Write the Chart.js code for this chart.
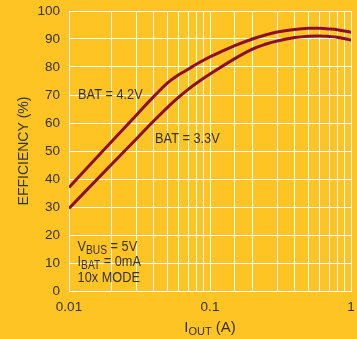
<!DOCTYPE html>
<html>
<head>
<meta charset="utf-8">
<script src="https://cdn.jsdelivr.net/npm/chart.js@4"></script>
<style>
  html, body { margin: 0; padding: 0; background: #fec424; }
  #wrap { width: 357px; height: 339px; }
</style>
</head>
<body>
<div id="wrap"><canvas id="myChart" width="357" height="339"></canvas></div>
<script>
// curve data (I OUT in A, efficiency in %)
const iOut = [0.01, 0.02, 0.03, 0.04, 0.05, 0.06, 0.07, 0.08, 0.1, 0.15, 0.2, 0.25, 0.3, 0.4, 0.5, 0.6, 0.7, 0.8, 1.0];
const bat42 = [37.0, 53.3, 62.8, 69.5, 74.3, 77.2, 79.2, 81.0, 83.6, 87.6, 90.0, 91.5, 92.5, 93.4, 93.8, 93.8, 93.6, 93.3, 92.4];
const bat33 = [29.5, 45.2, 54.3, 60.8, 65.6, 69.2, 72.0, 74.2, 77.5, 83.0, 86.4, 88.2, 89.3, 90.5, 91.0, 91.1, 90.9, 90.6, 89.6];
const yTicks = [0, 10, 20, 30, 40, 50, 60, 70, 80, 90, 100];
const xLabels = [0.01, 0.1, 1];

const lineColor = "#8c0f2f";
const textColor = "#333333";
const fam = "'Liberation Sans', Arial, sans-serif";

const toPoints = (xs, ys) => xs.map((x, i) => ({ x: x, y: ys[i] }));

// texts written inside the plot + the axis titles (with subscripts)
const textPlugin = {
  id: "textos",
  afterDraw(chart) {
    const ctx = chart.ctx;
    const xs = chart.scales.x;
    const ys = chart.scales.y;
    const area = chart.chartArea;
    ctx.save();
    ctx.fillStyle = textColor;
    ctx.textBaseline = "alphabetic";
    ctx.textAlign = "left";

    // parts = [[text, sub?], ...], squeeze = horizontal scale (narrow look)
    const drawRun = (parts, x, y, size, subSize, squeeze) => {
      ctx.save();
      ctx.translate(x, y);
      ctx.scale(squeeze, 1);
      let cx = 0;
      parts.forEach(([t, sub]) => {
        ctx.font = (sub ? subSize : size) + "px " + fam;
        ctx.fillText(t, cx, sub ? 3 : 0);
        cx += ctx.measureText(t).width;
      });
      ctx.restore();
      return cx * squeeze;
    };
    const runWidth = (parts, size, subSize) => {
      let w = 0;
      parts.forEach(([t, sub]) => {
        ctx.font = (sub ? subSize : size) + "px " + fam;
        w += ctx.measureText(t).width;
      });
      return w;
    };

    const sq = 0.85;
    drawRun([["BAT = 4.2V"]], xs.getPixelForValue(0.0116), ys.getPixelForValue(68.5), 15, 12, sq);
    drawRun([["BAT = 3.3V"]], xs.getPixelForValue(0.0408), ys.getPixelForValue(53.0), 15, 12, sq);

    const x0 = xs.getPixelForValue(0.0115);
    drawRun([["V"], ["BUS", true], [" = 5V"]], x0, ys.getPixelForValue(14.4), 15, 12, sq);
    drawRun([["I"], ["BAT", true], [" = 0mA"]], x0, ys.getPixelForValue(8.9), 15, 12, sq);
    drawRun([["10x MODE"]], x0, ys.getPixelForValue(3.3), 15, 12, sq);

    // x title
    const xt = [["I"], ["OUT", true], [" (A)"]];
    const cxm = (area.left + area.right) / 2;
    drawRun(xt, cxm - runWidth(xt, 15, 11) / 2, 332, 15, 11, 1);

    // y title
    ctx.translate(28, (area.top + area.bottom) / 2);
    ctx.rotate(-Math.PI / 2);
    ctx.font = "14px " + fam;
    ctx.textAlign = "center";
    ctx.fillText("EFFICIENCY (%)", 0, 0);
    ctx.restore();
  },
};

const data = {
  datasets: [
    {
      label: "BAT = 4.2V",
      data: toPoints(iOut, bat42),
      borderColor: lineColor,
      borderWidth: 3,
      pointRadius: 0,
      fill: false,
      tension: 0.4,
    },
    {
      label: "BAT = 3.3V",
      data: toPoints(iOut, bat33),
      borderColor: lineColor,
      borderWidth: 3,
      pointRadius: 0,
      fill: false,
      tension: 0.4,
    },
  ],
};

// tick gap is made with an invisible tick mark (tick padding would shrink the plot)
const config = {
  type: "line",
  data,
  options: {
    responsive: false,
    animation: false,
    events: [],
    layout: { padding: { left: 0, right: 6, top: 11, bottom: 0 } },
    plugins: { legend: { display: false }, tooltip: { enabled: false } },
    scales: {
      x: {
        type: "logarithmic",
        min: 0.01,
        max: 1,
        afterFit: (s) => { s.height = 48; },
        grid: { color: "#ffffff", lineWidth: 1, drawTicks: true, tickLength: 8, tickColor: "rgba(0,0,0,0)" },
        border: { color: "#ffffff", width: 1 },
        ticks: {
          autoSkip: false,
          maxRotation: 0,
          padding: 0,
          color: textColor,
          font: { family: fam, size: 13.5 },
          callback: (v) => {
            const l = Math.log10(v);
            const r = Math.round(l);
            if (Math.abs(l - r) < 1e-6 && xLabels.includes(Math.pow(10, r))) return String(Math.pow(10, r));
            return "";
          },
        },
      },
      y: {
        min: 0,
        max: 100,
        afterFit: (s) => { s.width = 69; },
        afterBuildTicks: (s) => { s.ticks = yTicks.map((v) => ({ value: v })); },
        grid: { color: "#ffffff", lineWidth: 1, drawTicks: true, tickLength: 9, tickColor: "rgba(0,0,0,0)" },
        border: { color: "#ffffff", width: 1 },
        ticks: {
          padding: 0,
          color: textColor,
          font: { family: fam, size: 13.5 },
        },
      },
    },
  },
  plugins: [textPlugin],
};

const myChart = new Chart(document.getElementById("myChart"), config);
</script>
</body>
</html>
